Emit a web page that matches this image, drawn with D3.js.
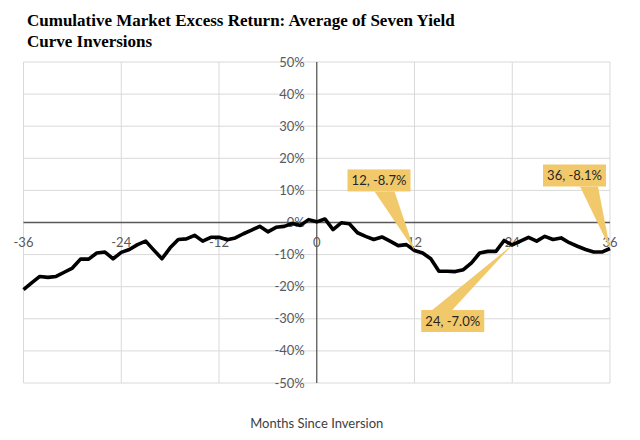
<!DOCTYPE html>
<html>
<head>
<meta charset="utf-8">
<script src="https://cdn.jsdelivr.net/npm/d3@7"></script>
<style>
  body { margin: 0; background: #fff; }
  svg { display: block; }
</style>
</head>
<body>
<svg id="chart" width="640" height="440"></svg>
<script>
// months since inversion, -36 .. 36
var months = d3.range(-36, 37);

// average cumulative excess return (%)
var excessReturn = [
  -20.9, -18.8, -16.8, -17.1, -16.8, -15.5, -14.2, -11.4, -11.4, -9.5,
  -9.2, -11.3, -9.3, -8.4, -6.9, -5.8, -8.6, -11.3, -7.9, -5.3,
  -5.1, -4.0, -5.8, -4.6, -4.6, -5.4, -4.8, -3.5, -2.4, -1.2,
  -2.9, -1.5, -1.2, -0.3, -0.9, 0.9, 0.2, 1.1, -2.2, -0.1,
  -0.4, -3.2, -4.3, -5.3, -4.5, -5.8, -7.2, -6.9, -8.7, -9.5,
  -11.3, -15.2, -15.2, -15.3, -14.7, -12.6, -9.5, -9.0, -9.0, -5.6,
  -7.0, -5.8, -4.6, -5.8, -4.3, -5.3, -4.8, -6.3, -7.4, -8.4,
  -9.2, -9.2, -8.1
];

var xTicks = [-36, -24, -12, 0, 12, 24, 36];
var yTicks = [-50, -40, -30, -20, -10, 0, 10, 20, 30, 40, 50];

// callouts: which month, and label text
var calloutMonths = [12, 24, 36];
var calloutLabels = ["12, -8.7%", "24, -7.0%", "36, -8.1%"];

var svg = d3.select("#chart");

var x = d3.scaleLinear().domain([-36, 36]).range([23.5, 610]);
var y = d3.scaleLinear().domain([-50, 50]).range([383, 62]);

var tickFont = "Lato, 'Open Sans', sans-serif";

// title
var title = svg.append("g")
  .attr("font-family", "'Liberation Serif', serif")
  .attr("font-weight", "bold")
  .attr("font-size", 17)
  .attr("fill", "#000");
title.append("text").attr("x", 27).attr("y", 26)
  .text("Cumulative Market Excess Return: Average of Seven Yield");
title.append("text").attr("x", 27).attr("y", 47)
  .text("Curve Inversions");

// gridlines
svg.append("g").selectAll("line.h")
  .data(yTicks.filter(function(d) { return d !== 0; }))
  .enter().append("line")
  .attr("x1", x(-36)).attr("x2", x(36))
  .attr("y1", function(d) { return y(d); })
  .attr("y2", function(d) { return y(d); })
  .attr("stroke", "#d9d9d9").attr("stroke-width", 1);

svg.append("g").selectAll("line.v")
  .data(xTicks.filter(function(d) { return d !== 0; }))
  .enter().append("line")
  .attr("x1", function(d) { return x(d); })
  .attr("x2", function(d) { return x(d); })
  .attr("y1", y(50)).attr("y2", y(-50))
  .attr("stroke", "#d9d9d9").attr("stroke-width", 1);

// axes lines
svg.append("line")
  .attr("x1", x(-36)).attr("x2", x(36))
  .attr("y1", y(0)).attr("y2", y(0))
  .attr("stroke", "#595959").attr("stroke-width", 1.3);
svg.append("line")
  .attr("x1", x(0)).attr("x2", x(0))
  .attr("y1", y(50)).attr("y2", y(-50))
  .attr("stroke", "#595959").attr("stroke-width", 1.3);

// y tick labels
svg.append("g").selectAll("text")
  .data(yTicks)
  .enter().append("text")
  .attr("x", x(0) - 12)
  .attr("y", function(d) { return y(d); })
  .attr("dy", "0.35em")
  .attr("text-anchor", "end")
  .attr("font-family", tickFont)
  .attr("font-size", 13)
  .attr("fill", "#595959")
  .text(function(d) { return d + "%"; });

// x tick labels
svg.append("g").selectAll("text")
  .data(xTicks)
  .enter().append("text")
  .attr("x", function(d) { return x(d); })
  .attr("y", y(0) + 24)
  .attr("text-anchor", "middle")
  .attr("font-family", tickFont)
  .attr("font-size", 13)
  .attr("fill", "#595959")
  .text(function(d) { return d; });

// x axis title
svg.append("text")
  .attr("x", x(0))
  .attr("y", 428)
  .attr("text-anchor", "middle")
  .attr("font-family", tickFont)
  .attr("font-size", 13)
  .attr("fill", "#404040")
  .text("Months Since Inversion");

// the line
var line = d3.line()
  .x(function(d, i) { return x(months[i]); })
  .y(function(d) { return y(d); });

svg.append("path")
  .datum(excessReturn)
  .attr("d", line)
  .attr("fill", "none")
  .attr("stroke", "#000")
  .attr("stroke-width", 3.6)
  .attr("stroke-linejoin", "round");

// callouts (box offsets relative to the data point)
var boxOffsets = [
  {dx: -67, dy: -81, px1: -40, px2: -20},
  {dx: -91, dy: 65,  px1: -80, px2: -60},
  {dx: -67, dy: -84, px1: -30, px2: -12}
];
var boxW = 63, boxH = 22;
var callouts = svg.append("g");

calloutMonths.forEach(function(m, i) {
  var v = excessReturn[months.indexOf(m)];
  var cx = x(m), cy = y(v);
  var o = boxOffsets[i];
  var bx = cx + o.dx, by = cy + o.dy;
  var edgeY = o.dy < 0 ? by + boxH : by;
  callouts.append("path")
    .attr("d", "M" + (cx + o.px1) + "," + edgeY +
               "L" + cx + "," + cy +
               "L" + (cx + o.px2) + "," + edgeY + "Z")
    .attr("fill", "#f2c96a");
  callouts.append("rect")
    .attr("x", bx).attr("y", by)
    .attr("width", boxW).attr("height", boxH)
    .attr("fill", "#f2c96a");
  callouts.append("text")
    .attr("x", bx + boxW / 2)
    .attr("y", by + boxH / 2)
    .attr("dy", "0.35em")
    .attr("text-anchor", "middle")
    .attr("font-family", tickFont)
    .attr("font-size", 13)
    .attr("fill", "#262626")
    .text(calloutLabels[i]);
});
</script>
</body>
</html>
